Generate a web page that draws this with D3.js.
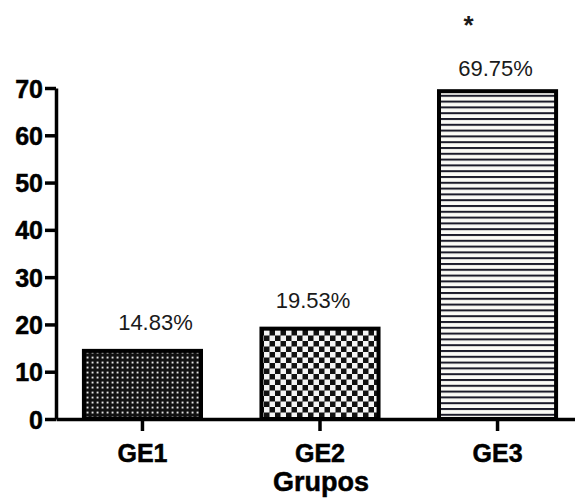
<!DOCTYPE html>
<html>
<head>
<meta charset="utf-8">
<script src="https://cdn.jsdelivr.net/npm/d3@7/dist/d3.min.js"></script>
<style>
  html, body { margin: 0; padding: 0; background: #fff; }
  svg { display: block; font-family: "Liberation Sans", Arial, Helvetica, sans-serif; }
</style>
</head>
<body>
<svg id="chart" width="575" height="499"></svg>
<script>
// Data
const groups = ["GE1", "GE2", "GE3"];
const percents = [14.83, 19.53, 69.75];
const valueLabels = ["14.83%", "19.53%", "69.75%"];
const significance = ["", "", "*"];
const yTicks = [0, 10, 20, 30, 40, 50, 60, 70];
const xTitle = "Grupos";

// Layout nudges for the value labels (dx, dy from bar centre / top)
const labelNudge = [[13, -19], [-7, -19], [-2, -13]];
const starNudge = [-29, -55];

const svg = d3.select("#chart");

const y = d3.scaleLinear().domain([0, 70]).range([419, 88]);
const x = d3.scaleBand().domain(groups)
  .range([56, 584]).paddingInner(0.318).paddingOuter(0.146);

// Fill patterns
const defs = svg.append("defs");

// GE1: fine white dots on black
const p1 = defs.append("pattern").attr("id", "pat1")
  .attr("patternUnits", "userSpaceOnUse").attr("width", 5).attr("height", 5);
p1.append("rect").attr("width", 5).attr("height", 5).attr("fill", "#111");
p1.append("rect").attr("x", 1.6).attr("y", 1.6).attr("width", 1.9).attr("height", 1.9).attr("fill", "#e4e4e4");

// GE2: checkerboard
const c = 5.5;
const p2 = defs.append("pattern").attr("id", "pat2")
  .attr("patternUnits", "userSpaceOnUse").attr("width", 2 * c).attr("height", 2 * c);
p2.append("rect").attr("width", 2 * c).attr("height", 2 * c).attr("fill", "#111");
p2.append("rect").attr("x", 0).attr("y", 0).attr("width", c).attr("height", c).attr("fill", "#f4f4f4");
p2.append("rect").attr("x", c).attr("y", c).attr("width", c).attr("height", c).attr("fill", "#f4f4f4");

// GE3: horizontal stripes
const sp = 5.8;
const p3 = defs.append("pattern").attr("id", "pat3")
  .attr("patternUnits", "userSpaceOnUse").attr("width", 10).attr("height", sp)
  .attr("y", 2);
p3.append("rect").attr("width", 10).attr("height", sp).attr("fill", "#fbfbf6");
p3.append("rect").attr("y", 0).attr("width", 10).attr("height", 2).attr("fill", "#1c1c2a");

const fills = ["url(#pat1)", "url(#pat2)", "url(#pat3)"];

// Bars
const bw = x.bandwidth();
svg.append("g").selectAll("rect")
  .data(groups)
  .join("rect")
  .attr("x", d => x(d) + 2)
  .attr("y", (d, i) => y(percents[i]) + 2)
  .attr("width", bw - 4)
  .attr("height", (d, i) => y(0) - y(percents[i]) - 2)
  .attr("fill", (d, i) => fills[i])
  .attr("stroke", "#000")
  .attr("stroke-width", 4);

// Y axis
const yAxis = svg.append("g")
  .attr("transform", `translate(${x.range()[0]},0)`)
  .call(d3.axisLeft(y).tickValues(yTicks).tickSize(11).tickSizeOuter(0).tickPadding(2));
yAxis.select(".domain").attr("stroke", "#000").attr("stroke-width", 3.5);
yAxis.selectAll(".tick line").attr("stroke", "#000").attr("stroke-width", 3.5);
yAxis.selectAll(".tick text")
  .attr("fill", "#000")
  .attr("stroke", "#000").attr("stroke-width", 0.5)
  .style("font-size", "25px")
  .style("font-weight", "bold")
  .attr("dy", "0.36em");

// X axis
const xAxis = svg.append("g")
  .attr("transform", `translate(0,${y(0)})`)
  .call(d3.axisBottom(x).tickSize(12).tickSizeOuter(0).tickPadding(8));
xAxis.select(".domain").attr("stroke", "#000").attr("stroke-width", 3.5);
xAxis.selectAll(".tick line").attr("stroke", "#000").attr("stroke-width", 3.5);
xAxis.selectAll(".tick text")
  .attr("fill", "#000")
  .attr("stroke", "#000").attr("stroke-width", 0.5)
  .style("font-size", "25px")
  .style("font-weight", "bold")
  .attr("dy", "0.93em");

// Axis title
svg.append("text")
  .attr("x", x("GE2") + bw / 2 + 1)
  .attr("y", 491)
  .attr("text-anchor", "middle")
  .attr("stroke", "#000").attr("stroke-width", 0.5)
  .style("font-size", "27px")
  .style("font-weight", "bold")
  .attr("fill", "#000")
  .text(xTitle);

// Value labels
svg.append("g").selectAll("text")
  .data(groups)
  .join("text")
  .attr("x", (d, i) => x(d) + bw / 2 + labelNudge[i][0])
  .attr("y", (d, i) => y(percents[i]) + labelNudge[i][1])
  .attr("text-anchor", "middle")
  .style("font-size", "22px")
  .attr("fill", "#1a1a1a")
  .text((d, i) => valueLabels[i]);

// Significance marker
svg.append("g").selectAll("text")
  .data(groups.filter((d, i) => significance[i]))
  .join("text")
  .attr("x", d => x(d) + bw / 2 + starNudge[0])
  .attr("y", d => y(percents[groups.indexOf(d)]) + starNudge[1])
  .attr("text-anchor", "middle")
  .style("font-size", "26px")
  .style("font-weight", "bold")
  .attr("fill", "#1a1a1a")
  .text(d => significance[groups.indexOf(d)]);
</script>
</body>
</html>
